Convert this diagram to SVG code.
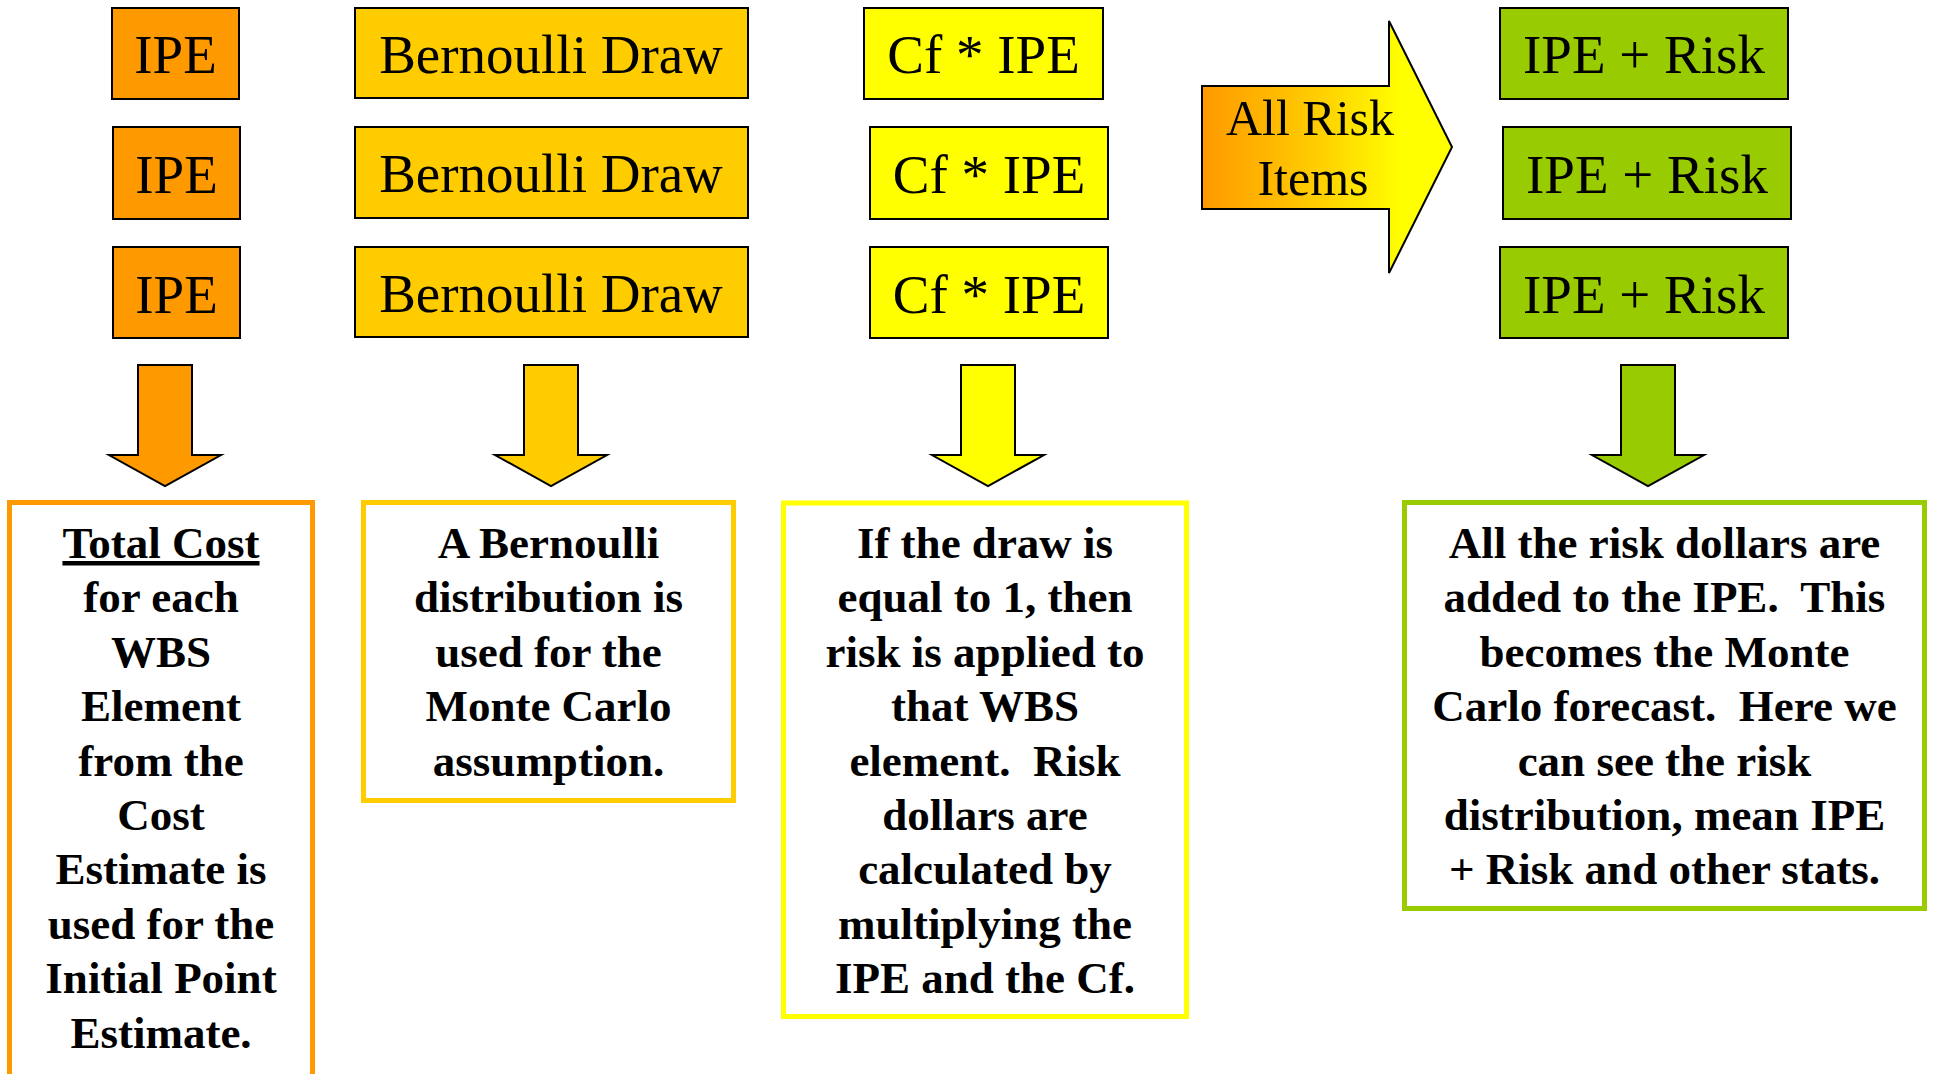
<svg xmlns="http://www.w3.org/2000/svg" width="1937" height="1074" viewBox="0 0 1937 1074">
<style>
  .box { stroke: #000; stroke-width: 2; }
  .o { fill: #FF9900; }
  .g { fill: #FFCC00; }
  .y { fill: #FFFF00; }
  .gr { fill: #99CC00; }
  .lbl { font-family: "Liberation Serif", "Times New Roman", serif; font-size: 55px; text-anchor: middle; fill: #000; }
  .note { fill: #fff; stroke-width: 5; }
  .nt { font-family: "Liberation Serif", "Times New Roman", serif; font-size: 45px; font-weight: bold; text-anchor: middle; fill: #000; white-space: pre; }
  .arr { stroke: #000; stroke-width: 2; stroke-linejoin: miter; }
</style>
<defs>
  <linearGradient id="bigGrad" x1="0" y1="0" x2="1" y2="0">
    <stop offset="0" stop-color="#FF9900"/>
    <stop offset="0.45" stop-color="#FFCC00"/>
    <stop offset="0.8" stop-color="#FFFF00"/>
    <stop offset="1" stop-color="#FFFF00"/>
  </linearGradient>
</defs>

<g id="ipe1"><rect class="box o" x="112" y="8" width="127" height="91"/><text class="lbl" x="175.5" y="73">IPE</text></g>
<g id="ipe2"><rect class="box o" x="113" y="127" width="127" height="92"/><text class="lbl" x="176.5" y="193">IPE</text></g>
<g id="ipe3"><rect class="box o" x="113" y="247" width="127" height="91"/><text class="lbl" x="176.5" y="313">IPE</text></g>

<g id="bern1"><rect class="box g" x="355" y="8" width="393" height="90"/><text class="lbl" x="551" y="73">Bernoulli Draw</text></g>
<g id="bern2"><rect class="box g" x="355" y="127" width="393" height="91"/><text class="lbl" x="551" y="192">Bernoulli Draw</text></g>
<g id="bern3"><rect class="box g" x="355" y="247" width="393" height="90"/><text class="lbl" x="551" y="312">Bernoulli Draw</text></g>

<g id="cf1"><rect class="box y" x="864" y="8" width="239" height="91"/><text class="lbl" x="983.5" y="73">Cf * IPE</text></g>
<g id="cf2"><rect class="box y" x="870" y="127" width="238" height="92"/><text class="lbl" x="989" y="193">Cf * IPE</text></g>
<g id="cf3"><rect class="box y" x="870" y="247" width="238" height="91"/><text class="lbl" x="989" y="313">Cf * IPE</text></g>

<g id="allRisk">
  <path class="arr" fill="url(#bigGrad)" d="M1202,86 H1389 V21 L1452,147 L1389,273 V209 H1202 Z"/>
  <text class="lbl" style="font-size:50px" x="1310" y="135">All Risk</text>
  <text class="lbl" style="font-size:50px" x="1313" y="195">Items</text>
</g>

<g id="risk1"><rect class="box gr" x="1500" y="8" width="288" height="91"/><text class="lbl" x="1644" y="73">IPE + Risk</text></g>
<g id="risk2"><rect class="box gr" x="1503" y="127" width="288" height="92"/><text class="lbl" x="1647" y="193">IPE + Risk</text></g>
<g id="risk3"><rect class="box gr" x="1500" y="247" width="288" height="91"/><text class="lbl" x="1644" y="313">IPE + Risk</text></g>

<g id="connectors">
  <path class="arr o" d="M138,365 H192 V455 H221 L165,486 L109,455 H138 Z"/>
  <path class="arr g" d="M524,365 H578 V455 H607 L551,486 L495,455 H524 Z"/>
  <path class="arr y" d="M961,365 H1015 V455 H1044 L988,486 L932,455 H961 Z"/>
  <path class="arr gr" d="M1621,365 H1675 V455 H1704 L1648,486 L1592,455 H1621 Z"/>
</g>

<g id="noteIPE">
  <rect class="note" stroke="#FF9900" x="9.5" y="502.5" width="303" height="620"/>
  <text class="nt" x="161" y="558" text-decoration="underline">Total Cost</text>
  <text class="nt" x="161" y="612.4">for each</text>
  <text class="nt" x="161" y="666.8">WBS</text>
  <text class="nt" x="161" y="721.2">Element</text>
  <text class="nt" x="161" y="775.6">from the</text>
  <text class="nt" x="161" y="830">Cost</text>
  <text class="nt" x="161" y="884.4">Estimate is</text>
  <text class="nt" x="161" y="938.8">used for the</text>
  <text class="nt" x="161" y="993.2">Initial Point</text>
  <text class="nt" x="161" y="1047.6">Estimate.</text>
</g>

<g id="noteBernoulli">
  <rect class="note" stroke="#FFCC00" x="363.5" y="502.5" width="370" height="298"/>
  <text class="nt" x="548.5" y="558">A Bernoulli</text>
  <text class="nt" x="548.5" y="612.4">distribution is</text>
  <text class="nt" x="548.5" y="666.8">used for the</text>
  <text class="nt" x="548.5" y="721.2">Monte Carlo</text>
  <text class="nt" x="548.5" y="775.6">assumption.</text>
</g>

<g id="noteCf">
  <rect class="note" stroke="#FFFF00" x="783.5" y="503" width="403" height="513.5"/>
  <text class="nt" x="985" y="558">If the draw is</text>
  <text class="nt" x="985" y="612.4">equal to 1, then</text>
  <text class="nt" x="985" y="666.8">risk is applied to</text>
  <text class="nt" x="985" y="721.2">that WBS</text>
  <text class="nt" x="985" y="775.6" xml:space="preserve">element.  Risk</text>
  <text class="nt" x="985" y="830">dollars are</text>
  <text class="nt" x="985" y="884.4">calculated by</text>
  <text class="nt" x="985" y="938.8">multiplying the</text>
  <text class="nt" x="985" y="993.2">IPE and the Cf.</text>
</g>

<g id="noteRisk">
  <rect class="note" stroke="#99CC00" x="1404.5" y="502.5" width="520" height="406"/>
  <text class="nt" x="1664.5" y="558">All the risk dollars are</text>
  <text class="nt" x="1664.5" y="612.4" xml:space="preserve">added to the IPE.  This</text>
  <text class="nt" x="1664.5" y="666.8">becomes the Monte</text>
  <text class="nt" x="1664.5" y="721.2" xml:space="preserve">Carlo forecast.  Here we</text>
  <text class="nt" x="1664.5" y="775.6">can see the risk</text>
  <text class="nt" x="1664.5" y="830">distribution, mean IPE</text>
  <text class="nt" x="1664.5" y="884.4">+ Risk and other stats.</text>
</g>
</svg>
